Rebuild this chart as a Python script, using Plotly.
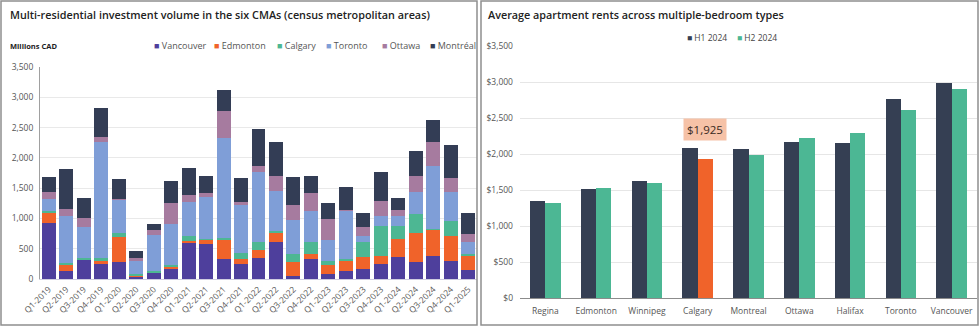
import plotly.graph_objects as go

# ---- Left chart: quarterly investment volume by CMA (millions CAD) ----
quarters = [
    "Q1-2019", "Q2-2019", "Q3-2019", "Q4-2019",
    "Q1-2020", "Q2-2020", "Q3-2020", "Q4-2020",
    "Q1-2021", "Q2-2021", "Q3-2021", "Q4-2021",
    "Q1-2022", "Q2-2022", "Q3-2022", "Q4-2022",
    "Q1-2023", "Q2-2023", "Q3-2023", "Q4-2023",
    "Q1-2024", "Q2-2024", "Q3-2024", "Q4-2024",
    "Q1-2025",
]
vancouver = [925, 130, 320, 255, 285, 45, 100, 180, 600, 575, 335, 245, 345,
             605, 55, 325, 90, 130, 170, 240, 370, 285, 375, 290, 145]
edmonton = [165, 105, 10, 35, 410, 20, 10, 25, 20, 70, 310, 85, 140,
            165, 220, 80, 135, 175, 190, 145, 285, 470, 440, 420, 245]
calgary = [25, 30, 15, 55, 60, 10, 15, 30, 95, 10, 30, 100, 130,
           15, 130, 200, 70, 25, 245, 485, 215, 325, 10, 255, 15]
toronto = [205, 770, 510, 1915, 555, 230, 595, 670, 550, 705, 1650, 790, 1145,
           660, 575, 520, 355, 805, 110, 175, 165, 350, 1035, 475, 205]
ottawa = [110, 120, 155, 80, 15, 50, 85, 350, 130, 60, 445, 45, 100,
          250, 250, 290, 345, 10, 140, 235, 110, 265, 395, 220, 130]
montreal = [260, 665, 320, 480, 320, 115, 105, 355, 440, 280, 345, 395, 610,
            570, 455, 285, 260, 375, 230, 485, 185, 425, 370, 550, 350]

cma_names = ["Vancouver", "Edmonton", "Calgary", "Toronto", "Ottawa", "Montréal"]
cma_values = [vancouver, edmonton, calgary, toronto, ottawa, montreal]
cma_colors = ["#4e3f9c", "#f0632a", "#4db793", "#7f9ed7", "#a67b9f", "#333d55"]

# ---- Right chart: average rents by city ----
cities = ["Regina", "Edmonton", "Winnipeg", "Calgary", "Montreal",
          "Ottawa", "Halifax", "Toronto", "Vancouver"]
rent_h1 = [1343, 1509, 1620, 2088, 2065, 2162, 2148, 2759, 2982]
rent_h2 = [1315, 1528, 1602, 1925, 1982, 2218, 2292, 2616, 2898]
period_names = ["H1 2024", "H2 2024"]
highlight_city = "Calgary"

H1_COLOR = "#353f53"
H2_COLOR = "#4cb794"
HIGHLIGHT_COLOR = "#f0632a"

FONT = "Open Sans"
W, H = 980, 327


def px_x(v):
    return v / W


def px_y(v):
    return 1 - v / H


fig = go.Figure()

# stacked CMA bars
for name, vals, col in zip(cma_names, cma_values, cma_colors):
    fig.add_trace(go.Bar(
        x=quarters, y=vals, name=name, marker_color=col,
        marker_line_width=0, width=0.8, xaxis="x", yaxis="y",
        showlegend=False,
    ))

# rent bars: each period on its own overlaid x-axis so they sit side by side
fig.add_trace(go.Bar(
    x=cities, y=rent_h1, name=period_names[0], marker_color=H1_COLOR,
    marker_line_width=0, width=0.3, offset=-0.3,
    xaxis="x2", yaxis="y2", showlegend=False,
))
h2_colors = [HIGHLIGHT_COLOR if c == highlight_city else H2_COLOR for c in cities]
fig.add_trace(go.Bar(
    x=cities, y=rent_h2, name=period_names[1], marker_color=h2_colors,
    marker_line_width=0, width=0.3, offset=0.0,
    xaxis="x3", yaxis="y2", showlegend=False,
))

tick_font = dict(family=FONT, size=8.5, color="#555555")

fig.update_layout(
    template="none",
    width=W, height=H,
    margin=dict(l=0, r=0, t=0, b=0, autoexpand=False),
    paper_bgcolor="white", plot_bgcolor="white",
    barmode="stack",
    font=dict(family=FONT, color="#333333"),
    xaxis=dict(
        domain=[px_x(40), px_x(477)], anchor="y", type="category",
        tickangle=-45, tickfont=tick_font, showgrid=False, automargin=False,
        showline=True, linecolor="#cfcde0", linewidth=1, ticks="",
        ticklabelstandoff=1,
    ),
    yaxis=dict(
        domain=[px_y(279), px_y(67)], anchor="x", range=[0, 3500],
        dtick=500, tickformat=",", tickfont=tick_font, automargin=False,
        showgrid=True, gridcolor="#e9e9e9", gridwidth=1,
        showline=True, linecolor="#a0a0a0", linewidth=1,
        zeroline=False, ticks="", ticklabelstandoff=4,
    ),
    xaxis2=dict(
        domain=[px_x(520), px_x(977)], anchor="y2", type="category",
        tickfont=tick_font, showgrid=False, automargin=False,
        showline=True, linecolor="#8c8c8c", linewidth=1, ticks="",
        ticklabelstandoff=5,
    ),
    xaxis3=dict(
        overlaying="x2", matches="x2", anchor="y2", type="category",
        visible=False, automargin=False,
    ),
    yaxis2=dict(
        domain=[px_y(298), px_y(46)], anchor="x2", range=[0, 3500],
        dtick=500, tickprefix="$", tickformat=",", tickfont=tick_font,
        showgrid=True, gridcolor="#e6e6e6", gridwidth=1, automargin=False,
        showline=False, zeroline=False, ticks="", ticklabelstandoff=6,
    ),
)

annotations = []
# panel titles
title_font = dict(family=FONT, size=10.8, color="#222222", weight=600)
annotations.append(dict(
    text="Multi-residential investment volume in the six CMAs (census metropolitan areas)",
    x=px_x(8), y=px_y(14), xref="paper", yref="paper",
    xanchor="left", yanchor="middle", showarrow=False, font=title_font,
))
annotations.append(dict(
    text="Average apartment rents across multiple-bedroom types",
    x=px_x(486), y=px_y(14), xref="paper", yref="paper",
    xanchor="left", yanchor="middle", showarrow=False, font=title_font,
))
annotations.append(dict(
    text="<b>Millions CAD</b>",
    x=px_x(8), y=px_y(46), xref="paper", yref="paper",
    xanchor="left", yanchor="middle", showarrow=False,
    font=dict(family=FONT, size=7.5, color="#222222"),
))

# legend entries for the CMA chart
left_legend_x = [152, 212, 275, 324, 380, 428]
for lx, name, col in zip(left_legend_x, cma_names, cma_colors):
    annotations.append(dict(
        text=f'<span style="color:{col}">■</span> {name}',
        x=px_x(lx), y=px_y(46), xref="paper", yref="paper",
        xanchor="left", yanchor="middle", showarrow=False,
        font=dict(family=FONT, size=9, color="#555555"),
    ))

# legend entries for the rent chart
right_legend_x = [685, 735]
for lx, name, col in zip(right_legend_x, period_names, [H1_COLOR, H2_COLOR]):
    annotations.append(dict(
        text=f'<span style="color:{col}">■</span> {name}',
        x=px_x(lx), y=px_y(37), xref="paper", yref="paper",
        xanchor="left", yanchor="middle", showarrow=False,
        font=dict(family=FONT, size=8.5, color="#444444"),
    ))

# callout over the highlighted H2 bar
hi = cities.index(highlight_city)
annotations.append(dict(
    text=f"${rent_h2[hi]:,}",
    x=cities[hi], y=rent_h2[hi], xref="x3", yref="y2",
    xshift=7.5, yshift=18, yanchor="bottom", showarrow=False,
    bgcolor="#f6c2a7", borderpad=3,
    font=dict(family=FONT, size=11.5, color="#3a2a22"),
))

fig.update_layout(annotations=annotations)

# panel frames
fig.update_layout(shapes=[
    dict(type="rect", xref="paper", yref="paper",
         x0=px_x(1), x1=px_x(477), y0=px_y(325), y1=px_y(1),
         line=dict(color="#8f8f8f", width=1.5)),
    dict(type="rect", xref="paper", yref="paper",
         x0=px_x(481), x1=px_x(978), y0=px_y(325), y1=px_y(1),
         line=dict(color="#8f8f8f", width=1.5)),
])

# the page body gets no default margin so the figure fills the window
fig.write_html(
    "out.html",
    post_script="document.body.style.margin='0';document.body.style.overflow='hidden';",
)
